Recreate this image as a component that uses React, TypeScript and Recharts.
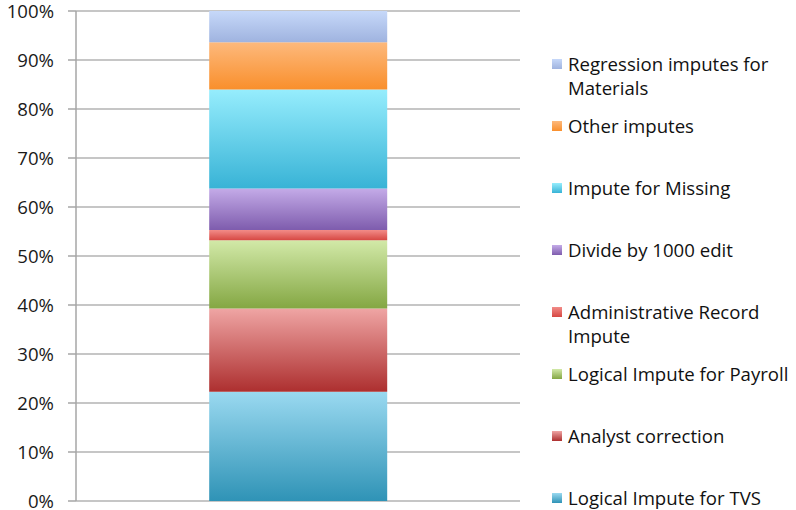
import React from 'react';
import { BarChart, Bar, XAxis, YAxis, CartesianGrid } from 'recharts';

// share of edits by source, percent (bottom of stack first)
const categories = ['Total'];
const logicalTvs = [22.3];
const analystCorrection = [17.0];
const logicalPayroll = [13.9];
const adminRecord = [2.1];
const divideBy1000 = [8.5];
const imputeMissing = [20.2];
const otherImputes = [9.6];
const regressionMaterials = [6.4];
const yTicks = [0, 10, 20, 30, 40, 50, 60, 70, 80, 90, 100];

const series = [
  { key: 'tvs', name: 'Logical Impute for TVS', values: logicalTvs, top: '#9ad9f0', bottom: '#2f93b6' },
  { key: 'analyst', name: 'Analyst correction', values: analystCorrection, top: '#efa5a4', bottom: '#ad2f2f' },
  { key: 'payroll', name: 'Logical Impute for Payroll', values: logicalPayroll, top: '#d2e9a8', bottom: '#84a743' },
  { key: 'admin', name: 'Administrative Record Impute', values: adminRecord, top: '#f28c88', bottom: '#d64742' },
  { key: 'divide', name: 'Divide by 1000 edit', values: divideBy1000, top: '#c4abe8', bottom: '#7e5cad' },
  { key: 'missing', name: 'Impute for Missing', values: imputeMissing, top: '#96edfd', bottom: '#38b3d6' },
  { key: 'other', name: 'Other imputes', values: otherImputes, top: '#fdb97c', bottom: '#f98f2c' },
  { key: 'regression', name: 'Regression imputes for Materials', values: regressionMaterials, top: '#c6d8f9', bottom: '#9fb3df' },
];

const data = categories.map((c, i) => {
  const row: Record<string, string | number> = { category: c };
  series.forEach((s) => { row[s.key] = s.values[i]; });
  return row;
});

const FONT = '"Open Sans", sans-serif';
const FONT_SIZE = 18.6;

// legend runs top-down in reverse stack order, one fixed-height slot per entry
const LegendBox = () => (
  <div style={{ position: 'absolute', left: 544, top: 52, fontFamily: FONT, fontSize: FONT_SIZE, color: '#111', width: 244 }}>
    {[...series].reverse().map((s) => (
      <div key={s.key} style={{ display: 'flex', alignItems: 'flex-start', height: 62 }}>
        <div
          style={{
            width: 10, height: 10, marginTop: 7, marginRight: 6, flexShrink: 0,
            background: `linear-gradient(${s.top}, ${s.bottom})`,
          }}
        />
        <div style={{ lineHeight: '24px', width: 228 }}>{s.name}</div>
      </div>
    ))}
  </div>
);

export default function App() {
  return (
    <div style={{ position: 'absolute', top: 0, left: 8, width: 788, height: 510, overflow: 'hidden' }}>
      <BarChart
        width={788}
        height={510}
        data={data}
        margin={{ top: 11, right: 276, bottom: 0, left: 0 }}
        barCategoryGap="30%"
      >
        <defs>
          {series.map((s) => (
            <linearGradient key={s.key} id={`grad-${s.key}`} x1="0" y1="0" x2="0" y2="1">
              <stop offset="0%" stopColor={s.top} />
              <stop offset="100%" stopColor={s.bottom} />
            </linearGradient>
          ))}
        </defs>
        <CartesianGrid vertical={false} stroke="#b3b3b3" strokeWidth={1.5} />
        <XAxis dataKey="category" hide />
        <XAxis
          xAxisId="frame"
          type="number"
          domain={[0, 1]}
          ticks={[0, 1]}
          tick={false}
          tickSize={7}
          height={9}
          stroke="#a6a6a6"
          strokeWidth={1.5}
        />
        <YAxis
          domain={[0, 100]}
          ticks={yTicks}
          tickFormatter={(v) => `${v}%`}
          width={68}
          tickSize={8}
          tickMargin={14}
          interval={0}
          stroke="#a6a6a6"
          strokeWidth={1.5}
          tick={{ fill: '#1a1a1a', fontSize: FONT_SIZE, fontFamily: FONT }}
        />
        {series.map((s) => (
          <Bar
            key={s.key}
            dataKey={s.key}
            name={s.name}
            stackId="a"
            fill={`url(#grad-${s.key})`}
            isAnimationActive={false}
          />
        ))}
      </BarChart>
      <LegendBox />
    </div>
  );
}
